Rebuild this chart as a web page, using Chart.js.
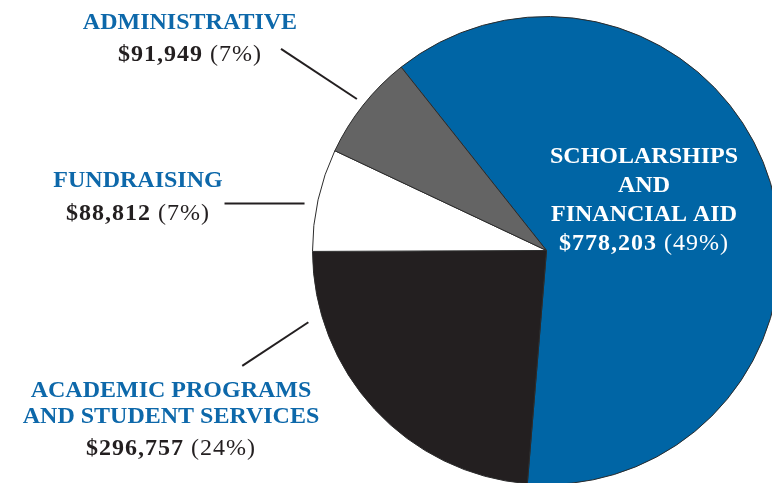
<!DOCTYPE html>
<html>
<head>
<meta charset="utf-8">
<script src="https://cdn.jsdelivr.net/npm/chart.js@4.4.1/dist/chart.umd.min.js"></script>
<style>
  html, body { margin: 0; padding: 0; background: #ffffff; overflow: hidden; width: 772px; height: 483px; }
  #wrap { position: absolute; left: 0; top: 0; width: 800px; height: 500px; }
</style>
</head>
<body>
<div id="wrap"><canvas id="c"></canvas></div>
<script>
// ---- data ----
const categories = ['Scholarships and Financial Aid', 'Academic Programs and Student Services', 'Fundraising', 'Administrative'];
const values = [778203, 296757, 88812, 91949];
const amountLabels = ['$778,203', '$296,757', '$88,812', '$91,949'];
const percentLabels = ['(49%)', '(24%)', '(7%)', '(7%)'];
const titleLines = [
  ['SCHOLARSHIPS', 'AND', 'FINANCIAL AID'],
  ['ACADEMIC PROGRAMS', 'AND STUDENT SERVICES'],
  ['FUNDRAISING'],
  ['ADMINISTRATIVE']
];
const sliceColors = ['#0065a5', '#231f20', '#ffffff', '#646464'];

// ---- label layout (text placement + leader geometry relative to each slice) ----
const labelLayout = [
  { x: 644, y: 163, lineGap: 29, numGap: 29, titleColor: '#ffffff', numColor: '#ffffff', leader: null },
  { x: 171, y: 397, lineGap: 26, numGap: 32, titleColor: '#0d68aa', numColor: '#231f20', leader: { dA1: 26.0, r1: 14.7, dA2: 22.0, r2: 91.4 } },
  { x: 138, y: 187, lineGap: 26, numGap: 33, titleColor: '#0d68aa', numColor: '#231f20', leader: { dA1: -1.5, r1: 12.5, dA2: -4.2, r2: 91.4 } },
  { x: 190, y: 29, lineGap: 26, numGap: 32, titleColor: '#0d68aa', numColor: '#231f20', leader: { dA1: 0.2, r1: 8.7, dA2: -1.2, r2: 99.4 } }
];

const labelPlugin = {
  id: 'sliceLabels',
  afterDraw(chart) {
    const ctx = chart.ctx;
    const meta = chart.getDatasetMeta(0);
    ctx.save();
    meta.data.forEach((arc, i) => {
      const p = arc.getProps(['x', 'y', 'startAngle', 'endAngle', 'outerRadius'], true);
      const L = labelLayout[i];
      // leader line
      if (L.leader) {
        const mid = (p.startAngle + p.endAngle) / 2;
        const a1 = mid + L.leader.dA1 * Math.PI / 180;
        const a2 = mid + L.leader.dA2 * Math.PI / 180;
        const r1 = p.outerRadius + L.leader.r1;
        const r2 = p.outerRadius + L.leader.r2;
        ctx.beginPath();
        ctx.moveTo(p.x + r1 * Math.cos(a1), p.y + r1 * Math.sin(a1));
        ctx.lineTo(p.x + r2 * Math.cos(a2), p.y + r2 * Math.sin(a2));
        ctx.strokeStyle = '#231f20';
        ctx.lineWidth = 2;
        ctx.stroke();
      }
      // title lines
      ctx.textBaseline = 'alphabetic';
      ctx.textAlign = 'center';
      ctx.letterSpacing = '0px';
      ctx.font = "bold 24px 'Liberation Serif'";
      ctx.fillStyle = L.titleColor;
      let y = L.y;
      titleLines[i].forEach((t, k) => {
        if (k > 0) y += L.lineGap;
        ctx.fillText(t, L.x, y);
      });
      y += L.numGap;
      // amount (bold) + percent (regular), centred together
      ctx.textAlign = 'left';
      ctx.letterSpacing = '1px';
      const boldFont = "bold 24px 'Liberation Serif'";
      const regFont = "24px 'Liberation Serif'";
      ctx.font = boldFont;
      const w1 = ctx.measureText(amountLabels[i] + ' ').width;
      ctx.font = regFont;
      const w2 = ctx.measureText(percentLabels[i]).width;
      const x0 = L.x - (w1 + w2) / 2;
      ctx.fillStyle = L.numColor;
      ctx.font = boldFont;
      ctx.fillText(amountLabels[i] + ' ', x0, y);
      ctx.font = regFont;
      ctx.fillText(percentLabels[i], x0 + w1, y);
    });
    ctx.restore();
  }
};

new Chart(document.getElementById('c'), {
  type: 'pie',
  data: {
    labels: categories,
    datasets: [{
      data: values,
      backgroundColor: sliceColors,
      borderColor: '#2b2b2b',
      borderWidth: 1
    }]
  },
  options: {
    responsive: true,
    maintainAspectRatio: false,
    animation: false,
    rotation: -38.4,
    layout: { padding: { left: 312, top: 16, right: 19, bottom: 15 } },
    plugins: {
      legend: { display: false },
      tooltip: { enabled: false },
      title: { display: false }
    }
  },
  plugins: [labelPlugin]
});
</script>
</body>
</html>
